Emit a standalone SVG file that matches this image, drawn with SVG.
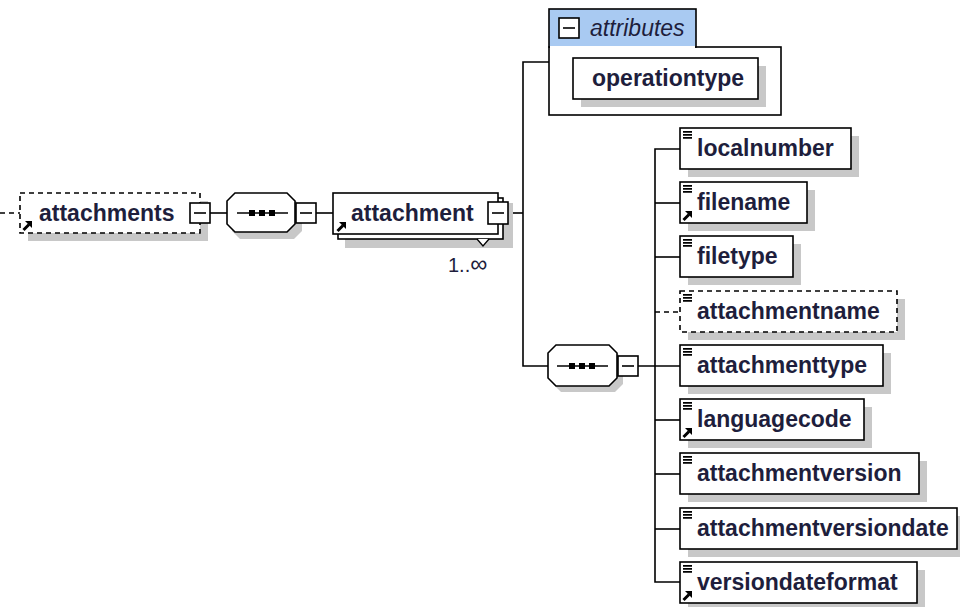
<svg xmlns="http://www.w3.org/2000/svg" width="960" height="607" viewBox="0 0 960 607">
<style>
.bx{fill:#fff;stroke:#000;stroke-width:1.6}
.dbx{fill:#fff;stroke:#000;stroke-width:1.6;stroke-dasharray:5,4}
.sh{fill:#c8c8c8}
.ln{fill:none;stroke:#000;stroke-width:1.6}
.dln{fill:none;stroke:#000;stroke-width:1.6;stroke-dasharray:5,4}
.t{font-family:"Liberation Sans",Arial,sans-serif;font-weight:bold;font-size:23px;fill:#1e1e3c}
.ti{font-family:"Liberation Sans",Arial,sans-serif;font-style:italic;font-size:23px;fill:#1e1e3c}
.tm{font-family:"Liberation Sans",Arial,sans-serif;font-size:20px;fill:#1e1e3c}
.btn{fill:#fff;stroke:#000;stroke-width:1.6}
</style>
<defs>
<g id="doc"><path d="M0,0.8H9M0,3.8H9M0,6.8H9" stroke="#000" stroke-width="1.7" fill="none"/></g>
<g id="ref"><path d="M1.5,9L7,3.5" stroke="#000" stroke-width="3" fill="none"/><path d="M3,0H10V7Z" fill="#000"/></g>
<g id="minus"><rect class="btn" x="0" y="0" width="20" height="20"/><path d="M4,10H16" stroke="#000" stroke-width="1.6"/></g>
<g id="seqicon"><path d="M0,0H51" stroke="#000" stroke-width="1.6"/><rect x="12" y="-3" width="6" height="6" fill="#000"/><rect x="22" y="-3" width="6" height="6" fill="#000"/><rect x="32" y="-3" width="6" height="6" fill="#000"/></g>
</defs>

<g id="connectors">
<path class="dln" d="M0,213H20"/>
<path class="ln" d="M209,213H227"/>
<path class="ln" d="M316,213H333"/>
<path class="ln" d="M508,213H523"/>
<path class="ln" d="M549,62H523V366H548"/>
<path class="ln" d="M638,366H680"/>
<path class="ln" d="M680,149H655V582H680"/>
<path class="ln" d="M655,203H680"/>
<path class="ln" d="M655,257H680"/>
<path class="dln" d="M655,312H680"/>
<path class="ln" d="M655,420H680"/>
<path class="ln" d="M655,474H680"/>
<path class="ln" d="M655,529H680"/>
</g>

<g id="attachments">
<rect class="sh" x="28" y="201" width="180" height="40"/>
<rect class="dbx" x="20" y="193" width="180" height="40"/>
<use href="#ref" x="22" y="221"/>
<text class="t" x="39" y="221">attachments</text>
<use href="#minus" x="190" y="203"/>
</g>

<g id="sequence1">
<path class="sh" d="M240,199H294L302,207V231L294,239H240L232,231V207Z"/>
<path class="bx" d="M235,193H287L295,201V224L287,232H235L227,224V201Z"/>
<use href="#seqicon" x="237" y="213"/>
<use href="#minus" x="296" y="203"/>
</g>

<g id="attachment">
<rect class="sh" x="345" y="203" width="168" height="45"/>
<rect class="bx" x="338" y="198" width="165" height="41"/>
<rect class="bx" x="333" y="193" width="165" height="41"/>
<use href="#ref" x="336" y="222"/>
<text class="t" x="351" y="221">attachment</text>
<rect class="btn" x="488" y="202" width="20" height="22"/>
<path d="M492,213H504" stroke="#000" stroke-width="1.6"/>
<path d="M477,239L483,246L489,239" fill="#fff" stroke="#000" stroke-width="1.3"/>
<text class="tm" x="448" y="272">1..<tspan font-size="24">∞</tspan></text>
</g>

<g id="attributes">
<rect class="bx" x="549" y="47" width="232" height="68"/>
<rect x="549" y="9" width="147" height="38" fill="#a9caf2" stroke="#000" stroke-width="1.6"/>
<rect x="550" y="46" width="145" height="3" fill="#fff"/>
<use href="#minus" x="559" y="18"/>
<text class="ti" x="590" y="36">attributes</text>
<g id="operationtype">
<rect class="sh" x="581" y="66" width="185" height="41"/>
<rect class="bx" x="573" y="58" width="185" height="41"/>
<text class="t" x="592" y="86">operationtype</text>
</g>
</g>

<g id="sequence2">
<path class="sh" d="M561,351H615L623,359V384L615,392H561L553,384V359Z"/>
<path class="bx" d="M556,345H609L617,353V378L609,386H556L548,378V353Z"/>
<use href="#seqicon" x="557" y="366"/>
<use href="#minus" x="618" y="356"/>
</g>

<g id="localnumber">
<rect class="sh" x="688" y="136" width="171" height="41"/>
<rect class="bx" x="680" y="128" width="171" height="41"/>
<use href="#doc" x="683" y="131"/>
<text class="t" x="697" y="156">localnumber</text>
</g>
<g id="filename">
<rect class="sh" x="688" y="190" width="127" height="41"/>
<rect class="bx" x="680" y="182" width="127" height="41"/>
<use href="#doc" x="683" y="185"/>
<use href="#ref" x="682" y="211"/>
<text class="t" x="697" y="210">filename</text>
</g>
<g id="filetype">
<rect class="sh" x="688" y="244" width="113" height="41"/>
<rect class="bx" x="680" y="236" width="113" height="41"/>
<use href="#doc" x="683" y="239"/>
<text class="t" x="697" y="264">filetype</text>
</g>
<g id="attachmentname">
<rect class="sh" x="688" y="299" width="217" height="41"/>
<rect class="dbx" x="680" y="291" width="217" height="41"/>
<use href="#doc" x="683" y="294"/>
<text class="t" x="697" y="319">attachmentname</text>
</g>
<g id="attachmenttype">
<rect class="sh" x="688" y="353" width="203" height="41"/>
<rect class="bx" x="680" y="345" width="203" height="41"/>
<use href="#doc" x="683" y="348"/>
<text class="t" x="697" y="373">attachmenttype</text>
</g>
<g id="languagecode">
<rect class="sh" x="688" y="407" width="184" height="41"/>
<rect class="bx" x="680" y="399" width="184" height="41"/>
<use href="#doc" x="683" y="402"/>
<use href="#ref" x="682" y="428"/>
<text class="t" x="697" y="427">languagecode</text>
</g>
<g id="attachmentversion">
<rect class="sh" x="688" y="461" width="239" height="41"/>
<rect class="bx" x="680" y="453" width="239" height="41"/>
<use href="#doc" x="683" y="456"/>
<text class="t" x="697" y="481">attachmentversion</text>
</g>
<g id="attachmentversiondate">
<rect class="sh" x="688" y="516" width="277" height="41"/>
<rect class="bx" x="680" y="508" width="277" height="41"/>
<use href="#doc" x="683" y="511"/>
<text class="t" x="697" y="536">attachmentversiondate</text>
</g>
<g id="versiondateformat">
<rect class="sh" x="688" y="570" width="237" height="41"/>
<rect class="bx" x="680" y="562" width="237" height="41"/>
<use href="#doc" x="683" y="565"/>
<use href="#ref" x="682" y="591"/>
<text class="t" x="697" y="590">versiondateformat</text>
</g>
</svg>
